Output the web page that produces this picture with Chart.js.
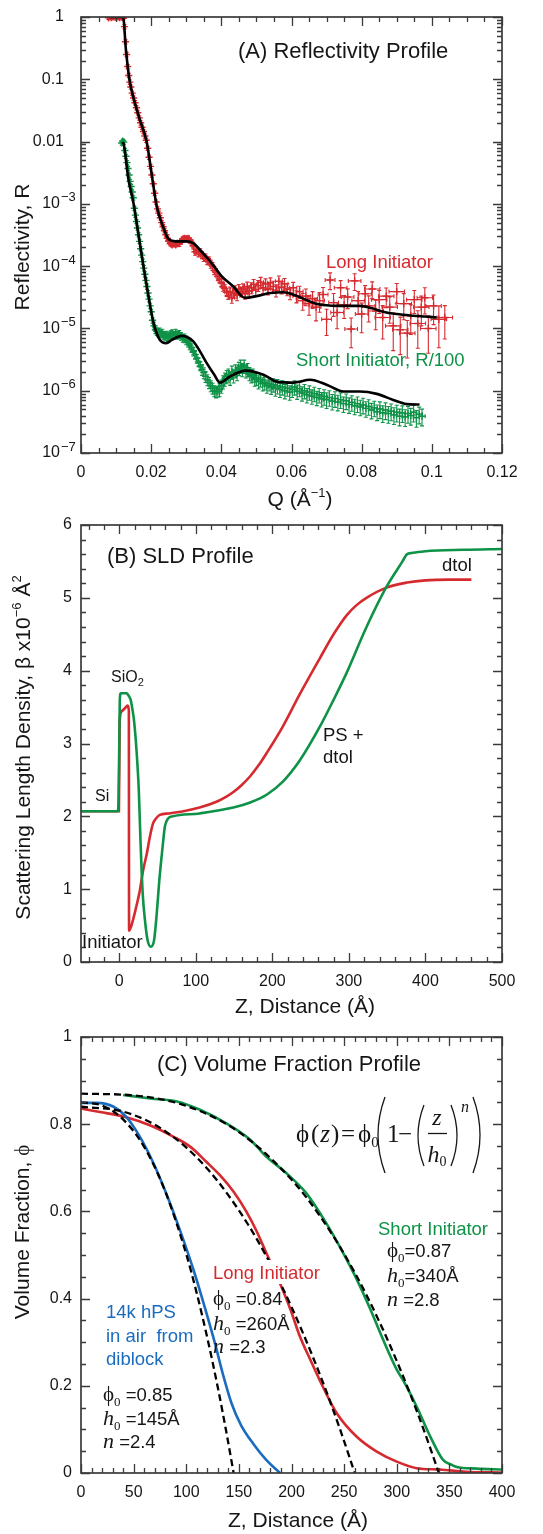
<!DOCTYPE html>
<html>
<head>
<meta charset="utf-8">
<script src="https://cdn.jsdelivr.net/npm/chart.js@4.4.1/dist/chart.umd.min.js"></script>
<style>
html, body { margin: 0; padding: 0; background: #fff; }
#wrap { position: relative; width: 543px; height: 1534px; background: #fff; }
canvas { position: absolute; left: 0; }
</style>
</head>
<body>
<div id="wrap">
  <canvas id="chartA" width="543" height="514" style="top:0"></canvas>
  <canvas id="chartB" width="543" height="511" style="top:514px"></canvas>
  <canvas id="chartC" width="543" height="509" style="top:1025px"></canvas>
</div>
<script>
// ---------- (A) reflectivity: Long Initiator data ----------
const longQ = [
  0.0078, 0.0082, 0.0086, 0.0090, 0.0094, 0.0098, 0.0102, 0.0106, 0.0110, 0.0114,
  0.0118, 0.0121, 0.0124, 0.0127, 0.0130, 0.0133, 0.0136, 0.0139, 0.0142, 0.0146,
  0.0150, 0.0154, 0.0158, 0.0162, 0.0166, 0.0170, 0.0174, 0.0178, 0.0182, 0.0186,
  0.0190, 0.0194, 0.0198, 0.0202, 0.0206, 0.0210, 0.0214, 0.0218, 0.0222, 0.0226,
  0.0230, 0.0234, 0.0238, 0.0242, 0.0246, 0.0250, 0.0255, 0.0260, 0.0265, 0.0270,
  0.0275, 0.0280, 0.0285, 0.0290, 0.0295, 0.0300, 0.0305, 0.0310, 0.0315, 0.0320,
  0.0325, 0.0330, 0.0335, 0.0340, 0.0345, 0.0350, 0.0355, 0.0360, 0.0365, 0.0370,
  0.0375, 0.0380, 0.0385, 0.0390, 0.0395, 0.0400, 0.0405, 0.0410, 0.0415, 0.0420,
  0.0425, 0.0430, 0.0435, 0.0440, 0.0445, 0.0450, 0.0456, 0.0462, 0.0468, 0.0474,
  0.0480, 0.0486, 0.0492, 0.0498, 0.0505, 0.0512, 0.0519, 0.0526, 0.0533, 0.0540,
  0.0548, 0.0556, 0.0564, 0.0572, 0.0580, 0.0588, 0.0596, 0.0605, 0.0614, 0.0623,
  0.0632, 0.0641, 0.0650, 0.0660, 0.0670, 0.0680, 0.0690, 0.0700, 0.0710, 0.0720,
  0.0730, 0.0740, 0.0750, 0.0760, 0.0770, 0.0780, 0.0790, 0.0800, 0.0810, 0.0820,
  0.0830, 0.0840, 0.0850, 0.0860, 0.0870, 0.0880, 0.0890, 0.0900, 0.0910, 0.0920,
  0.0930, 0.0940, 0.0950, 0.0960, 0.0970, 0.0980, 0.0990, 0.1005, 0.1020, 0.1037
];
const longR = [
  0.97, 1.0, 0.98, 1.0, 1.0, 0.99, 1.0, 1.0, 0.98, 1.0,
  0.99, 0.95, 0.7, 0.4, 0.25, 0.16, 0.115, 0.09, 0.075, 0.06,
  0.050, 0.042, 0.035, 0.029, 0.024, 0.020, 0.017, 0.0145, 0.0123, 0.0105,
  0.0078, 0.0056, 0.0040, 0.0029, 0.0021, 0.00148, 0.00107, 8.3e-4, 7.1e-4, 6.0e-4,
  5.0e-4, 4.3e-4, 3.7e-4, 3.2e-4, 2.8e-4, 2.5e-4, 2.3e-4, 2.2e-4, 2.3e-4, 2.2e-4,
  2.35e-4, 2.3e-4, 2.5e-4, 2.7e-4, 2.8e-4, 2.75e-4, 2.8e-4, 2.6e-4, 2.4e-4, 2.1e-4,
  1.7e-4, 1.8e-4, 1.6e-4, 1.7e-4, 1.5e-4, 1.35e-4, 1.4e-4, 1.2e-4, 1.25e-4, 1.05e-4,
  1.0e-4, 8.5e-5, 8.0e-5, 6.8e-5, 6.2e-5, 5.5e-5, 4.6e-5, 4.4e-5, 3.8e-5, 3.4e-5,
  3.9e-5, 3.1e-5, 3.7e-5, 4.1e-5, 3.4e-5, 4.3e-5, 3.9e-5, 4.4e-5, 3.6e-5, 4.7e-5,
  4.0e-5, 4.5e-5, 5.1e-5, 4.2e-5, 4.9e-5, 5.5e-5, 4.5e-5, 5.2e-5, 4.3e-5, 5.4e-5,
  4.7e-5, 4.1e-5, 5.7e-5, 4.6e-5, 5.2e-5, 4.3e-5, 3.7e-5, 4.5e-5, 3.3e-5, 3.9e-5,
  2.8e-5, 3.3e-5, 2.5e-5, 3.0e-5, 2.2e-5, 2.8e-5, 3.5e-5, 1.4e-5, 6.0e-5, 2.6e-5,
  1.8e-5, 4.5e-5, 2.4e-5, 3.2e-5, 9.8e-6, 5.8e-5, 2.8e-5, 1.7e-5, 3.6e-5, 2.3e-5,
  4.3e-5, 1.9e-5, 2.9e-5, 1.5e-5, 3.3e-5, 2.2e-5, 1.1e-5, 3.9e-5, 9.5e-6, 2.5e-5,
  8.4e-6, 1.6e-5, 2.9e-5, 1.2e-5, 2.2e-5, 3.1e-5, 1.0e-5, 2.3e-5, 1.4e-5, 1.5e-5
];
// relative error on R, and half width of the Q error bar
const longErr = [
  0.06, 0.06, 0.06, 0.06, 0.06, 0.06, 0.06, 0.06, 0.06, 0.06,
  0.06, 0.06, 0.08, 0.08, 0.08, 0.08, 0.08, 0.08, 0.08, 0.08,
  0.08, 0.08, 0.08, 0.08, 0.08, 0.08, 0.08, 0.08, 0.08, 0.08,
  0.08, 0.08, 0.08, 0.08, 0.08, 0.08, 0.08, 0.08, 0.08, 0.08,
  0.08, 0.08, 0.08, 0.08, 0.08, 0.08, 0.08, 0.08, 0.08, 0.08,
  0.1, 0.1, 0.1, 0.1, 0.1, 0.1, 0.1, 0.1, 0.1, 0.1,
  0.12, 0.12, 0.12, 0.12, 0.12, 0.12, 0.12, 0.12, 0.12, 0.12,
  0.14, 0.14, 0.14, 0.14, 0.14, 0.14, 0.14, 0.14, 0.14, 0.14,
  0.18, 0.18, 0.18, 0.18, 0.18, 0.18, 0.18, 0.18, 0.18, 0.18,
  0.2, 0.2, 0.2, 0.2, 0.2, 0.2, 0.2, 0.2, 0.2, 0.2,
  0.22, 0.22, 0.22, 0.22, 0.22, 0.22, 0.22, 0.22, 0.22, 0.22,
  0.3, 0.3, 0.35, 0.3, 0.4, 0.35, 0.3, 0.45, 0.3, 0.4,
  0.45, 0.3, 0.4, 0.35, 0.5, 0.3, 0.4, 0.5, 0.35, 0.45,
  0.3, 0.5, 0.4, 0.55, 0.35, 0.45, 0.6, 0.35, 0.6, 0.45,
  0.6, 0.5, 0.4, 0.6, 0.5, 0.45, 0.6, 0.5, 0.65, 0.55
];
const longDQ = [
  0.0002, 0.0002, 0.0002, 0.0002, 0.0002, 0.0002, 0.0002, 0.0002, 0.0002, 0.0002,
  0.0002, 0.0002, 0.0002, 0.0002, 0.0002, 0.0002, 0.0002, 0.0002, 0.0002, 0.0002,
  0.0002, 0.0002, 0.0002, 0.0002, 0.0002, 0.0002, 0.0002, 0.0002, 0.0002, 0.0002,
  0.0002, 0.0002, 0.0002, 0.0002, 0.0002, 0.0002, 0.0002, 0.0002, 0.0002, 0.0002,
  0.0003, 0.0003, 0.0003, 0.0003, 0.0003, 0.0003, 0.0003, 0.0003, 0.0003, 0.0003,
  0.0004, 0.0004, 0.0004, 0.0004, 0.0004, 0.0004, 0.0004, 0.0004, 0.0004, 0.0004,
  0.0004, 0.0004, 0.0004, 0.0004, 0.0004, 0.0004, 0.0004, 0.0004, 0.0004, 0.0004,
  0.0005, 0.0005, 0.0005, 0.0005, 0.0005, 0.0005, 0.0005, 0.0005, 0.0005, 0.0005,
  0.0008, 0.0008, 0.0008, 0.0008, 0.0008, 0.0008, 0.0008, 0.0008, 0.0008, 0.0008,
  0.0008, 0.0008, 0.0008, 0.0008, 0.0008, 0.0008, 0.0008, 0.0008, 0.0008, 0.0008,
  0.0010, 0.0010, 0.0010, 0.0010, 0.0010, 0.0010, 0.0010, 0.0010, 0.0010, 0.0010,
  0.0014, 0.0014, 0.0014, 0.0014, 0.0014, 0.0014, 0.0014, 0.0014, 0.0014, 0.0014,
  0.0018, 0.0018, 0.0018, 0.0018, 0.0018, 0.0018, 0.0018, 0.0018, 0.0018, 0.0018,
  0.0022, 0.0022, 0.0022, 0.0022, 0.0022, 0.0022, 0.0022, 0.0022, 0.0022, 0.0022,
  0.0022, 0.0022, 0.0022, 0.0022, 0.0022, 0.0022, 0.0022, 0.0022, 0.0022, 0.0022
];

// ---------- (A) reflectivity: Short Initiator data (R/100) ----------
const shortQ = [
  0.0116, 0.0119, 0.0122, 0.0125, 0.0128, 0.0131, 0.0134, 0.0137, 0.0140, 0.0143,
  0.0146, 0.0149, 0.0152, 0.0155, 0.0158, 0.0161, 0.0164, 0.0167, 0.0170, 0.0173,
  0.0176, 0.0179, 0.0182, 0.0185, 0.0188, 0.0191, 0.0194, 0.0197, 0.0200, 0.0204,
  0.0208, 0.0212, 0.0216, 0.0220, 0.0224, 0.0228, 0.0232, 0.0236, 0.0240, 0.0244,
  0.0248, 0.0252, 0.0256, 0.0260, 0.0265, 0.0270, 0.0275, 0.0280, 0.0285, 0.0290,
  0.0295, 0.0300, 0.0305, 0.0310, 0.0315, 0.0320, 0.0325, 0.0330, 0.0335, 0.0340,
  0.0345, 0.0350, 0.0355, 0.0360, 0.0365, 0.0370, 0.0375, 0.0380, 0.0385, 0.0390,
  0.0395, 0.0400, 0.0405, 0.0410, 0.0415, 0.0420, 0.0425, 0.0430, 0.0435, 0.0440,
  0.0445, 0.0450, 0.0455, 0.0460, 0.0465, 0.0470, 0.0475, 0.0480, 0.0485, 0.0490,
  0.0495, 0.0500, 0.0506, 0.0512, 0.0518, 0.0524, 0.0530, 0.0536, 0.0542, 0.0548,
  0.0554, 0.0560, 0.0567, 0.0574, 0.0581, 0.0588, 0.0595, 0.0602, 0.0609, 0.0616,
  0.0623, 0.0630, 0.0637, 0.0644, 0.0651, 0.0658, 0.0665, 0.0672, 0.0679, 0.0686,
  0.0693, 0.0700, 0.0708, 0.0716, 0.0724, 0.0732, 0.0740, 0.0748, 0.0756, 0.0764,
  0.0772, 0.0780, 0.0788, 0.0796, 0.0804, 0.0812, 0.0820, 0.0828, 0.0836, 0.0844,
  0.0852, 0.0860, 0.0868, 0.0876, 0.0884, 0.0892, 0.0900, 0.0908, 0.0916, 0.0924,
  0.0932, 0.0940, 0.0948, 0.0956, 0.0964, 0.0972
];
const shortR = [
  0.0095, 0.0102, 0.0098, 0.0072, 0.0058, 0.0046, 0.0037, 0.0029, 0.0023, 0.0019,
  0.00155, 0.00125, 8.5e-4, 6.6e-4, 5.2e-4, 4.1e-4, 3.2e-4, 2.5e-4, 1.9e-4, 1.5e-4,
  1.18e-4, 9.3e-5, 7.4e-5, 5.9e-5, 4.7e-5, 3.7e-5, 2.95e-5, 2.3e-5, 1.85e-5, 1.35e-5,
  1.1e-5, 9.6e-6, 9.0e-6, 8.6e-6, 8.9e-6, 8.2e-6, 8.5e-6, 7.8e-6, 7.5e-6, 7.9e-6,
  7.2e-6, 7.6e-6, 8.0e-6, 8.3e-6, 7.8e-6, 8.5e-6, 7.8e-6, 8.1e-6, 7.5e-6, 7.0e-6,
  7.0e-6, 6.5e-6, 6.0e-6, 5.4e-6, 4.9e-6, 4.3e-6, 3.8e-6, 3.3e-6, 2.9e-6, 2.5e-6,
  2.2e-6, 1.95e-6, 1.7e-6, 1.5e-6, 1.35e-6, 1.2e-6, 1.1e-6, 1.0e-6, 9.6e-7, 9.8e-7,
  1.05e-6, 1.2e-6, 1.4e-6, 1.55e-6, 1.7e-6, 1.8e-6, 1.6e-6, 2.0e-6, 1.75e-6, 2.1e-6,
  1.9e-6, 2.3e-6, 2.5e-6, 2.2e-6, 2.5e-6, 2.1e-6, 2.2e-6, 1.9e-6, 1.75e-6, 1.8e-6,
  1.55e-6, 1.6e-6, 1.4e-6, 1.5e-6, 1.3e-6, 1.35e-6, 1.2e-6, 1.3e-6, 1.15e-6, 1.25e-6,
  1.1e-6, 1.2e-6, 1.05e-6, 1.15e-6, 1.0e-6, 1.1e-6, 9.5e-7, 1.05e-6, 1.15e-6, 9.8e-7,
  1.08e-6, 9.2e-7, 1.0e-6, 8.6e-7, 9.5e-7, 8.2e-7, 9.0e-7, 7.8e-7, 8.6e-7, 7.4e-7,
  8.1e-7, 7.2e-7, 7.8e-7, 6.8e-7, 7.5e-7, 6.6e-7, 7.2e-7, 6.2e-7, 6.9e-7, 6.0e-7,
  6.5e-7, 5.7e-7, 6.2e-7, 5.5e-7, 5.9e-7, 5.2e-7, 5.6e-7, 4.9e-7, 5.3e-7, 4.6e-7,
  5.1e-7, 4.4e-7, 4.9e-7, 4.3e-7, 4.7e-7, 4.1e-7, 4.5e-7, 3.9e-7, 4.4e-7, 3.8e-7,
  4.3e-7, 4.0e-7, 4.5e-7, 3.7e-7, 4.2e-7, 3.9e-7
];
const shortErr = [
  0.08, 0.08, 0.08, 0.08, 0.08, 0.08, 0.08, 0.08, 0.08, 0.08,
  0.08, 0.08, 0.08, 0.08, 0.08, 0.08, 0.08, 0.08, 0.08, 0.08,
  0.1, 0.1, 0.1, 0.1, 0.1, 0.1, 0.1, 0.1, 0.1, 0.1,
  0.14, 0.14, 0.14, 0.14, 0.14, 0.14, 0.14, 0.14, 0.14, 0.14,
  0.14, 0.14, 0.14, 0.14, 0.14, 0.14, 0.14, 0.14, 0.14, 0.14,
  0.16, 0.16, 0.16, 0.16, 0.16, 0.16, 0.16, 0.16, 0.16, 0.16,
  0.2, 0.2, 0.2, 0.2, 0.2, 0.2, 0.2, 0.2, 0.2, 0.2,
  0.24, 0.24, 0.24, 0.24, 0.24, 0.24, 0.24, 0.24, 0.24, 0.24,
  0.24, 0.24, 0.24, 0.24, 0.24, 0.24, 0.24, 0.24, 0.24, 0.24,
  0.24, 0.24, 0.24, 0.24, 0.24, 0.24, 0.24, 0.24, 0.24, 0.24,
  0.26, 0.26, 0.26, 0.26, 0.26, 0.26, 0.26, 0.26, 0.26, 0.26,
  0.26, 0.26, 0.26, 0.26, 0.26, 0.26, 0.26, 0.26, 0.26, 0.26,
  0.28, 0.28, 0.28, 0.28, 0.28, 0.28, 0.28, 0.28, 0.28, 0.28,
  0.28, 0.28, 0.28, 0.28, 0.28, 0.28, 0.28, 0.28, 0.28, 0.28,
  0.3, 0.3, 0.3, 0.3, 0.3, 0.3, 0.3, 0.3, 0.3, 0.3,
  0.3, 0.3, 0.3, 0.3, 0.3, 0.3
];
const shortDQ = [
  0.0002, 0.0002, 0.0002, 0.0002, 0.0002, 0.0002, 0.0002, 0.0002, 0.0002, 0.0002,
  0.0002, 0.0002, 0.0002, 0.0002, 0.0002, 0.0002, 0.0002, 0.0002, 0.0002, 0.0002,
  0.0002, 0.0002, 0.0002, 0.0002, 0.0002, 0.0002, 0.0002, 0.0002, 0.0002, 0.0002,
  0.0004, 0.0004, 0.0004, 0.0004, 0.0004, 0.0004, 0.0004, 0.0004, 0.0004, 0.0004,
  0.0004, 0.0004, 0.0004, 0.0004, 0.0004, 0.0004, 0.0004, 0.0004, 0.0004, 0.0004,
  0.0004, 0.0004, 0.0004, 0.0004, 0.0004, 0.0004, 0.0004, 0.0004, 0.0004, 0.0004,
  0.0005, 0.0005, 0.0005, 0.0005, 0.0005, 0.0005, 0.0005, 0.0005, 0.0005, 0.0005,
  0.0007, 0.0007, 0.0007, 0.0007, 0.0007, 0.0007, 0.0007, 0.0007, 0.0007, 0.0007,
  0.0007, 0.0007, 0.0007, 0.0007, 0.0007, 0.0007, 0.0007, 0.0007, 0.0007, 0.0007,
  0.0007, 0.0007, 0.0007, 0.0007, 0.0007, 0.0007, 0.0007, 0.0007, 0.0007, 0.0007,
  0.0008, 0.0008, 0.0008, 0.0008, 0.0008, 0.0008, 0.0008, 0.0008, 0.0008, 0.0008,
  0.0008, 0.0008, 0.0008, 0.0008, 0.0008, 0.0008, 0.0008, 0.0008, 0.0008, 0.0008,
  0.0009, 0.0009, 0.0009, 0.0009, 0.0009, 0.0009, 0.0009, 0.0009, 0.0009, 0.0009,
  0.0009, 0.0009, 0.0009, 0.0009, 0.0009, 0.0009, 0.0009, 0.0009, 0.0009, 0.0009,
  0.0009, 0.0009, 0.0009, 0.0009, 0.0009, 0.0009, 0.0009, 0.0009, 0.0009, 0.0009,
  0.0009, 0.0009, 0.0009, 0.0009, 0.0009, 0.0009
];

// ---------- (A) model fits ----------
const longFitQ = [
  0.0082, 0.0120, 0.0128, 0.0138, 0.0149, 0.0165, 0.0187, 0.0200, 0.0216, 0.0234,
  0.0250, 0.0270, 0.0300, 0.0320, 0.0340, 0.0360, 0.0376, 0.0400, 0.0434, 0.0467,
  0.0500, 0.0540, 0.0577, 0.0610, 0.0640, 0.0670, 0.0700, 0.0729, 0.0760, 0.0795,
  0.0830, 0.0860, 0.0900, 0.0947, 0.0980, 0.1014
];
const longFitR = [
  1.0, 1.0, 0.3, 0.1, 0.052, 0.025, 0.010, 0.0034, 9e-4, 4.3e-4,
  2.7e-4, 2.5e-4, 2.5e-4, 2.35e-4, 1.8e-4, 1.35e-4, 1.05e-4, 7e-5, 4.7e-5, 3.1e-5,
  3.3e-5, 3.7e-5, 3.8e-5, 3.4e-5, 2.9e-5, 2.5e-5, 2.35e-5, 2.3e-5, 2.3e-5, 2.3e-5,
  2.1e-5, 1.86e-5, 1.7e-5, 1.6e-5, 1.55e-5, 1.5e-5
];
const shortFitQ = [
  0.0118, 0.0122, 0.0135, 0.0150, 0.0160, 0.0178, 0.0195, 0.0208, 0.0225, 0.0243,
  0.0260, 0.0287, 0.0320, 0.0340, 0.0358, 0.0380, 0.0396, 0.0425, 0.0470, 0.0520,
  0.0558, 0.0605, 0.0653, 0.0700, 0.0748, 0.0795, 0.0843, 0.0890, 0.0928, 0.0965
];
const shortFitR = [
  0.0098, 0.0090, 0.0025, 1e-3, 4.4e-4, 1e-4, 2.7e-5, 1.15e-5, 6.5e-6, 5.8e-6,
  6.6e-6, 7.6e-6, 6.2e-6, 4.2e-6, 2.8e-6, 1.8e-6, 1.35e-6, 1.7e-6, 2.1e-6, 1.8e-6,
  1.4e-6, 1.35e-6, 1.5e-6, 1.25e-6, 9.7e-7, 9.7e-7, 8.9e-7, 7.1e-7, 6.1e-7, 6.0e-7
];
const aXTicks = [0, 0.02, 0.04, 0.06, 0.08, 0.1, 0.12];
const aXTickText = ['0', '0.02', '0.04', '0.06', '0.08', '0.1', '0.12'];
const aYTicks = [1, 0.1, 0.01, 1e-3, 1e-4, 1e-5, 1e-6, 1e-7];
const aYTickText = ['1', '0.1', '0.01', '10|\u22123', '10|\u22124', '10|\u22125', '10|\u22126', '10|\u22127'];

// ---------- (B) SLD profiles ----------
const sldLongZ = [
  -50, -0.5, 0.5, 3, 7, 11, 12.5, 12.8, 18, 22,
  27, 31, 36, 40, 44, 48, 53, 65, 84, 105,
  127, 140, 150, 160, 171, 182, 192, 214, 236, 262,
  280, 297, 310, 323, 349, 376, 400, 430, 460
];
const sldLong = [
  2.07, 2.07, 3.3, 3.44, 3.48, 3.52, 3.45, 0.43, 0.58, 0.75,
  0.99, 1.25, 1.49, 1.72, 1.9, 1.97, 2.02, 2.04, 2.07, 2.12,
  2.2, 2.27, 2.34, 2.43, 2.55, 2.7, 2.86, 3.24, 3.68, 4.17,
  4.5, 4.76, 4.9, 5.0, 5.14, 5.21, 5.24, 5.25, 5.25
];
const sldShortZ = [
  -50, -2, -1, 0, 0.7, 2, 9.5, 12, 14.9, 17,
  19.1, 22.5, 25.5, 27.7, 30.6, 34, 37, 41.3, 45.5, 49,
  52.3, 56.6, 59.6, 63.8, 70, 105, 149, 171, 193, 214,
  236, 262, 280, 297, 323, 349, 370, 376, 382, 400,
  450, 500
];
const sldShort = [
  2.07, 2.07, 2.2, 3.0, 3.6, 3.69, 3.69, 3.66, 3.6, 3.48,
  3.33, 2.91, 2.36, 1.67, 0.94, 0.53, 0.3, 0.21, 0.3, 0.67,
  1.12, 1.58, 1.86, 1.97, 2.0, 2.04, 2.12, 2.19, 2.3, 2.48,
  2.77, 3.23, 3.6, 3.97, 4.6, 5.15, 5.5, 5.6, 5.615, 5.64,
  5.66, 5.67
];
const bXTicks = [0, 100, 200, 300, 400, 500];
const bYTicks = [0, 1, 2, 3, 4, 5, 6];

// ---------- (C) volume fraction profiles ----------
const volAirZ = [0, 15, 31, 43, 56, 69, 81, 94, 107, 117, 127, 135, 143, 152, 164, 176, 189];
const volAir = [0.849, 0.849, 0.84, 0.817, 0.771, 0.71, 0.641, 0.557, 0.465, 0.385, 0.3, 0.225, 0.16, 0.11, 0.066, 0.03, 0.0];
const volLongZ = [0, 18, 43, 66, 88, 104, 119, 132, 145, 157, 167, 176, 189, 199, 208, 218, 227, 243, 262, 281, 300, 319, 341, 366, 400];
const volLong = [0.836, 0.828, 0.816, 0.797, 0.771, 0.748, 0.714, 0.683, 0.645, 0.6, 0.554, 0.505, 0.435, 0.375, 0.313, 0.259, 0.212, 0.137, 0.083, 0.049, 0.026, 0.011, 0.008, 0.003, 0.001];
const volShortZ = [40, 66, 91, 113, 138, 161, 176, 195, 214, 233, 249, 262, 275, 287, 300, 306, 319, 332, 344, 352, 357, 376, 400];
const volShort = [0.867, 0.859, 0.852, 0.833, 0.802, 0.764, 0.726, 0.688, 0.642, 0.573, 0.505, 0.444, 0.375, 0.306, 0.237, 0.213, 0.152, 0.083, 0.03, 0.019, 0.014, 0.01, 0.008];
// dashed power-law fits
const fitAirZ = [0, 20, 40, 60, 80, 100, 110, 120, 130, 138, 145];
const fitAir = [0.85, 0.843, 0.811, 0.748, 0.646, 0.502, 0.412, 0.31, 0.196, 0.095, 0.0];
const fitLongZ = [0, 40, 80, 120, 160, 190, 210, 230, 245, 255, 260];
const fitLong = [0.84, 0.829, 0.784, 0.698, 0.565, 0.432, 0.326, 0.207, 0.108, 0.037, 0.0];
const fitShortZ = [0, 50, 100, 150, 200, 230, 260, 285, 305, 320, 332, 340];
const fitShort = [0.87, 0.866, 0.842, 0.782, 0.673, 0.579, 0.46, 0.339, 0.228, 0.136, 0.056, 0.0];
const cXTicks = [0, 50, 100, 150, 200, 250, 300, 350, 400];
const cYTicks = [0, 0.2, 0.4, 0.6, 0.8, 1];
const cYTickText = ['0', '0.2', '0.4', '0.6', '0.8', '1'];

// ---------- styling ----------
const RED = '#d52a2f';
const GREEN = '#0e9247';
const BLUE = '#1b6cbf';
const INK = '#161616';
const AXIS = '#3a3a3a';
const SANS = '"Liberation Sans", Arial, Helvetica, sans-serif';
const SERIF = '"Liberation Serif", "Times New Roman", serif';
const f = (size, fam = SANS, style = '') => `${style} ${size}px ${fam}`.trim();

const pts = (xs, ys) => xs.map((v, i) => ({ x: v, y: ys[i] }));

// draws a row of text pieces: [text, font, dy, dx]
function drawRuns(ctx, x, y, parts, opts = {}) {
  ctx.save();
  let w = 0;
  parts.forEach(p => { ctx.font = p[1]; w += ctx.measureText(p[0]).width + (p[3] || 0); });
  let cx = opts.align === 'center' ? x - w / 2 : (opts.align === 'right' ? x - w : x);
  ctx.fillStyle = opts.color || INK;
  ctx.textAlign = 'left';
  ctx.textBaseline = 'alphabetic';
  parts.forEach(p => {
    ctx.font = p[1];
    cx += (p[3] || 0);
    ctx.fillText(p[0], cx, y + (p[2] || 0));
    cx += ctx.measureText(p[0]).width;
  });
  ctx.restore();
}

function drawRotated(ctx, cx, cy, parts) {
  ctx.save();
  ctx.translate(cx, cy);
  ctx.rotate(-Math.PI / 2);
  drawRuns(ctx, 0, 7.5, parts, { align: 'center' });
  ctx.restore();
}

function range(from, to, step) {
  const out = [];
  for (let v = from; v <= to + step / 1000; v += step) out.push(+v.toFixed(6));
  return out;
}

// frame with inward ticks on all four sides, plus tick labels
function frameAxes(cfg) {
  return {
    id: 'frameAxes',
    afterDatasetsDraw(chart) {
      const { ctx, chartArea: a } = chart;
      const xs = chart.scales.x, ys = chart.scales.y;
      ctx.save();
      ctx.strokeStyle = AXIS;
      ctx.lineWidth = 1.3;
      ctx.beginPath();
      const seg = (x1, y1, x2, y2) => { ctx.moveTo(x1, y1); ctx.lineTo(x2, y2); };
      const xt = (v, len) => {
        const p = Math.round(xs.getPixelForValue(v)) + 0.5;
        seg(p, a.bottom, p, a.bottom - len); seg(p, a.top, p, a.top + len);
      };
      const yt = (v, len) => {
        const p = Math.round(ys.getPixelForValue(v)) + 0.5;
        seg(a.left, p, a.left + len, p); seg(a.right, p, a.right - len, p);
      };
      cfg.xMinor.forEach(v => xt(v, 5));
      cfg.xTicks.forEach(v => xt(v, 9));
      cfg.yMinor.forEach(v => yt(v, 5));
      cfg.yTicks.forEach(v => yt(v, 9));
      ctx.stroke();
      ctx.lineWidth = 1.7;
      ctx.strokeRect(a.left, a.top, a.right - a.left, a.bottom - a.top);

      ctx.fillStyle = INK;
      ctx.font = f(16);
      ctx.textAlign = 'center';
      ctx.textBaseline = 'middle';
      cfg.xTicks.forEach((v, i) => ctx.fillText(cfg.xText[i], xs.getPixelForValue(v), a.bottom + 20));
      cfg.yTicks.forEach((v, i) => {
        const p = ys.getPixelForValue(v);
        const [base, sup] = cfg.yText[i].split('|');
        if (sup) {
          ctx.textAlign = 'right';
          ctx.font = f(16);
          ctx.fillText(base, a.left - 21, p);
          ctx.textAlign = 'left';
          ctx.font = f(13);
          ctx.fillText(sup, a.left - 20, p - 6);
        } else {
          ctx.textAlign = 'right';
          ctx.font = f(16);
          ctx.fillText(base, a.left - cfg.yGap, p);
        }
      });
      ctx.restore();
      if (cfg.decorate) cfg.decorate(ctx, chart);
    }
  };
}

const errorBars = {
  id: 'errorBars',
  beforeDatasetsDraw(chart) {
    const { ctx, chartArea: a } = chart;
    const xs = chart.scales.x, ys = chart.scales.y;
    ctx.save();
    ctx.beginPath();
    ctx.rect(a.left, a.top, a.right - a.left, a.bottom - a.top);
    ctx.clip();
    chart.data.datasets.forEach(ds => {
      if (!ds.errRel) return;
      ctx.strokeStyle = ds.borderColor;
      ctx.lineWidth = 1.1;
      ctx.beginPath();
      ds.data.forEach((p, i) => {
        const px = xs.getPixelForValue(p.x), py = ys.getPixelForValue(p.y);
        const e = ds.errRel[i], dq = ds.errQ[i];
        const yHi = ys.getPixelForValue(p.y * (1 + e));
        const yLo = ys.getPixelForValue(p.y * (1 - e));
        const xL = xs.getPixelForValue(p.x - dq), xR = xs.getPixelForValue(p.x + dq);
        ctx.moveTo(px, yHi); ctx.lineTo(px, yLo);
        ctx.moveTo(xL, py); ctx.lineTo(xR, py);
        ctx.moveTo(px - 2, yHi); ctx.lineTo(px + 2, yHi);
        ctx.moveTo(px - 2, yLo); ctx.lineTo(px + 2, yLo);
        ctx.moveTo(xL, py - 2); ctx.lineTo(xL, py + 2);
        ctx.moveTo(xR, py - 2); ctx.lineTo(xR, py + 2);
      });
      ctx.stroke();
    });
    ctx.restore();
  }
};

const baseOptions = (pad) => ({
  responsive: false,
  animation: false,
  devicePixelRatio: 1,
  events: [],
  layout: { padding: pad },
  plugins: { legend: { display: false }, tooltip: { enabled: false } }
});

// ---------- chart A ----------
const logMinor = [];
for (let d = -7; d <= -1; d++) for (let k = 2; k <= 9; k++) logMinor.push(k * Math.pow(10, d));

new Chart(document.getElementById('chartA'), {
  type: 'scatter',
  data: {
    datasets: [
      { label: 'Long fit', data: pts(longFitQ, longFitR), showLine: true, borderColor: '#000', borderWidth: 2.6,
        pointRadius: 0, cubicInterpolationMode: 'monotone', order: 0 },
      { label: 'Short fit', data: pts(shortFitQ, shortFitR), showLine: true, borderColor: '#000', borderWidth: 2.6,
        pointRadius: 0, cubicInterpolationMode: 'monotone', order: 0 },
      { label: 'Long Initiator', data: pts(longQ, longR), errRel: longErr, errQ: longDQ,
        pointStyle: 'cross', pointRadius: 3.6, borderColor: RED, backgroundColor: RED, borderWidth: 1.4, order: 2 },
      { label: 'Short Initiator, R/100', data: pts(shortQ, shortR), errRel: shortErr, errQ: shortDQ,
        pointStyle: 'cross', pointRadius: 3.6, borderColor: GREEN, backgroundColor: GREEN, borderWidth: 1.4, order: 2 }
    ]
  },
  options: Object.assign(baseOptions({ left: 81, right: 41, top: 17, bottom: 61 }), {
    scales: {
      x: { type: 'linear', min: 0, max: 0.12, display: false },
      y: { type: 'logarithmic', min: 1e-7, max: 1, display: false }
    }
  }),
  plugins: [errorBars, frameAxes({
    xTicks: aXTicks, xText: aXTickText, xMinor: range(0, 0.12, 0.005),
    yTicks: aYTicks, yText: aYTickText, yMinor: logMinor, yGap: 17,
    decorate(ctx) {
      drawRuns(ctx, 238, 58, [['(A) Reflectivity Profile', f(22)]]);
      drawRuns(ctx, 326, 268, [['Long Initiator', f(18.5)]], { color: RED });
      drawRuns(ctx, 296, 366, [['Short Initiator, R/100', f(18.5)]], { color: GREEN });
      drawRuns(ctx, 300, 506, [['Q (\u00c5', f(21)], ['\u22121', f(13), -9], [')', f(21)]], { align: 'center' });
      drawRotated(ctx, 21, 247, [['Reflectivity, R', f(21)]]);
    }
  })]
});

// ---------- chart B ----------
new Chart(document.getElementById('chartB'), {
  type: 'scatter',
  data: {
    datasets: [
      { label: 'Long Initiator', data: pts(sldLongZ, sldLong), showLine: true, borderColor: RED, borderWidth: 2.6,
        pointRadius: 0, cubicInterpolationMode: 'monotone', order: 1 },
      { label: 'Short Initiator', data: pts(sldShortZ, sldShort), showLine: true, borderColor: GREEN, borderWidth: 2.6,
        pointRadius: 0, cubicInterpolationMode: 'monotone', order: 0 }
    ]
  },
  options: Object.assign(baseOptions({ left: 81, right: 41, top: 11, bottom: 63 }), {
    scales: {
      x: { type: 'linear', min: -50, max: 500, display: false },
      y: { type: 'linear', min: 0, max: 6, display: false }
    }
  }),
  plugins: [frameAxes({
    xTicks: bXTicks, xText: bXTicks.map(String), xMinor: range(-40, 480, 20),
    yTicks: bYTicks, yText: bYTicks.map(String), yMinor: range(0, 6, 0.2), yGap: 9,
    decorate(ctx) {
      drawRuns(ctx, 107, 48.5, [['(B) SLD Profile', f(22)]]);
      drawRuns(ctx, 111, 168, [['SiO', f(16)], ['2', f(11), 4]]);
      drawRuns(ctx, 95, 287, [['Si', f(16)]]);
      drawRuns(ctx, 82, 434, [['Initiator', f(18.5)]]);
      drawRuns(ctx, 323, 227, [['PS +', f(18.5)]]);
      drawRuns(ctx, 323, 249, [['dtol', f(18.5)]]);
      drawRuns(ctx, 442, 57, [['dtol', f(18.5)]]);
      drawRuns(ctx, 305, 499, [['Z, Distance (\u00c5)', f(21)]], { align: 'center' });
      drawRotated(ctx, 22, 233.5, [
        ['Scattering Length Density, \u03b2 x10', f(21)], ['\u22126', f(13), -9],
        [' \u00c5', f(21)], ['2', f(13), -9]
      ]);
    }
  })]
});

// ---------- chart C ----------
function paren(ctx, x, top, bottom, bulge) {
  ctx.beginPath();
  ctx.moveTo(x, top);
  ctx.quadraticCurveTo(x - bulge, (top + bottom) / 2, x, bottom);
  ctx.stroke();
}

new Chart(document.getElementById('chartC'), {
  type: 'scatter',
  data: {
    datasets: [
      { label: 'fit air', data: pts(fitAirZ, fitAir), showLine: true, borderColor: '#000', borderWidth: 2.3,
        borderDash: [7, 4], pointRadius: 0, cubicInterpolationMode: 'monotone', order: 0 },
      { label: 'fit long', data: pts(fitLongZ, fitLong), showLine: true, borderColor: '#000', borderWidth: 2.3,
        borderDash: [7, 4], pointRadius: 0, cubicInterpolationMode: 'monotone', order: 0 },
      { label: 'fit short', data: pts(fitShortZ, fitShort), showLine: true, borderColor: '#000', borderWidth: 2.3,
        borderDash: [7, 4], pointRadius: 0, cubicInterpolationMode: 'monotone', order: 0 },
      { label: '14k hPS in air from diblock', data: pts(volAirZ, volAir), showLine: true, borderColor: BLUE,
        borderWidth: 2.6, pointRadius: 0, cubicInterpolationMode: 'monotone', order: 1 },
      { label: 'Long Initiator', data: pts(volLongZ, volLong), showLine: true, borderColor: RED,
        borderWidth: 2.6, pointRadius: 0, cubicInterpolationMode: 'monotone', order: 1 },
      { label: 'Short Initiator', data: pts(volShortZ, volShort), showLine: true, borderColor: GREEN,
        borderWidth: 2.6, pointRadius: 0, cubicInterpolationMode: 'monotone', order: 1 }
    ]
  },
  options: Object.assign(baseOptions({ left: 81, right: 41, top: 12, bottom: 61 }), {
    scales: {
      x: { type: 'linear', min: 0, max: 400, display: false },
      y: { type: 'linear', min: 0, max: 1, display: false }
    }
  }),
  plugins: [frameAxes({
    xTicks: cXTicks, xText: cXTicks.map(String), xMinor: range(0, 400, 10),
    yTicks: cYTicks, yText: cYTickText, yMinor: range(0, 1, 0.05), yGap: 9,
    decorate(ctx) {
      const PHI = '\u03d5';
      drawRuns(ctx, 157, 46, [['(C) Volume Fraction Profile', f(22)]]);

      // formula phi(z) = phi0 (1 - (z/h0)^n)
      drawRuns(ctx, 296, 117, [[PHI, f(25, SERIF)]]);
      drawRuns(ctx, 311, 117, [['(', f(25, SERIF)], ['z', f(25, SERIF, 'italic'), 0, 1], [')', f(25, SERIF), 0, 1]]);
      drawRuns(ctx, 341, 117, [['=', f(25, SERIF)]]);
      drawRuns(ctx, 358, 117, [[PHI, f(25, SERIF)], ['0', f(15, SERIF), 5]]);
      drawRuns(ctx, 387, 117, [['1', f(25, SERIF)]]);
      drawRuns(ctx, 398, 117, [['\u2212', f(25, SERIF)]]);
      drawRuns(ctx, 437, 100, [['z', f(24, SERIF, 'italic')]], { align: 'center' });
      drawRuns(ctx, 437, 137, [['h', f(24, SERIF, 'italic')], ['0', f(14, SERIF), 4]], { align: 'center' });
      drawRuns(ctx, 461, 87, [['n', f(16, SERIF, 'italic')]]);
      ctx.save();
      ctx.strokeStyle = INK;
      ctx.lineWidth = 1.3;
      ctx.beginPath(); ctx.moveTo(428, 108.5); ctx.lineTo(447, 108.5); ctx.stroke();
      paren(ctx, 385, 72, 148, 14);
      paren(ctx, 424, 80, 141, 12);
      paren(ctx, 451, 80, 141, -12);
      paren(ctx, 473, 72, 148, -14);
      ctx.restore();

      // parameter groups
      drawRuns(ctx, 378, 210, [['Short Initiator', f(18.5)]], { color: GREEN });
      drawRuns(ctx, 387, 232, [[PHI, f(21, SERIF)], ['0', f(13, SERIF), 5], ['=0.87', f(18.5)]]);
      drawRuns(ctx, 387, 257, [['h', f(22, SERIF, 'italic')], ['0', f(13, SERIF), 5], ['=340\u00c5', f(18.5)]]);
      drawRuns(ctx, 387, 281, [['n', f(22, SERIF, 'italic')], [' =2.8', f(18.5)]]);

      ctx.save();
      ctx.fillStyle = '#fff';
      ctx.fillRect(211, 235, 112, 24);
      ctx.restore();
      drawRuns(ctx, 213, 254, [['Long Initiator', f(18.5)]], { color: RED });
      drawRuns(ctx, 213, 280, [[PHI, f(21, SERIF)], ['0', f(13, SERIF), 5], [' =0.84', f(18.5)]]);
      drawRuns(ctx, 213, 305, [['h', f(22, SERIF, 'italic')], ['0', f(13, SERIF), 5], [' =260\u00c5', f(18.5)]]);
      drawRuns(ctx, 213, 328, [['n', f(22, SERIF, 'italic')], [' =2.3', f(18.5)]]);

      drawRuns(ctx, 106, 293, [['14k hPS', f(18.5)]], { color: BLUE });
      drawRuns(ctx, 106, 317, [['in air  from', f(18.5)]], { color: BLUE });
      drawRuns(ctx, 106, 340, [['diblock', f(18.5)]], { color: BLUE });
      drawRuns(ctx, 103, 376, [[PHI, f(21, SERIF)], ['0', f(13, SERIF), 5], [' =0.85', f(18.5)]]);
      drawRuns(ctx, 103, 400, [['h', f(22, SERIF, 'italic')], ['0', f(13, SERIF), 5], [' =145\u00c5', f(18.5)]]);
      drawRuns(ctx, 103, 423, [['n', f(22, SERIF, 'italic')], [' =2.4', f(18.5)]]);

      drawRuns(ctx, 298, 502, [['Z, Distance (\u00c5)', f(21)]], { align: 'center' });
      drawRotated(ctx, 21.5, 207, [['Volume Fraction, ', f(21)], [PHI, f(21, SERIF)]]);
    }
  })]
});
</script>
</body>
</html>
